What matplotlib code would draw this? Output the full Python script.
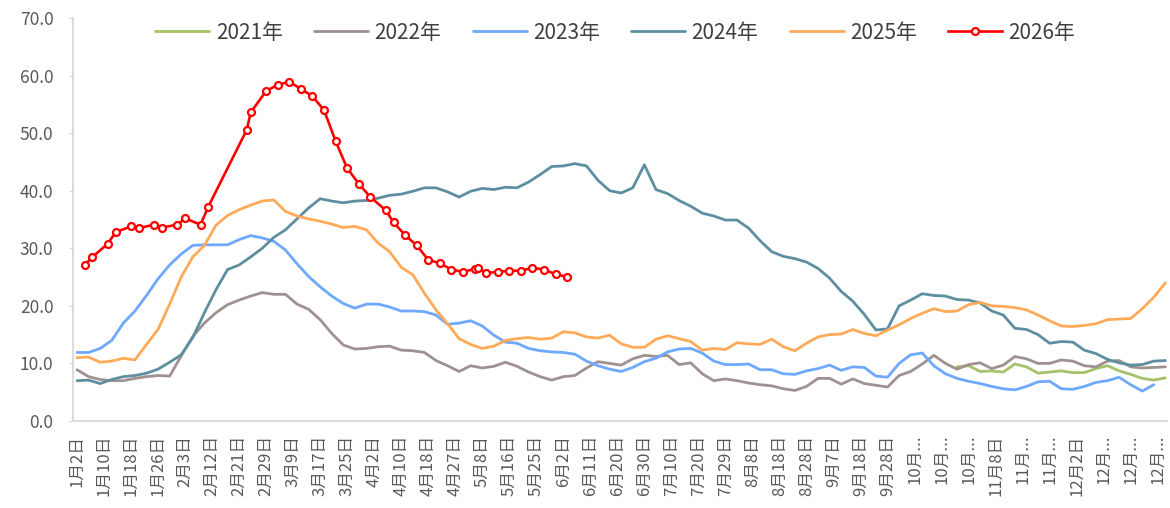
import numpy as np
import matplotlib.pyplot as plt

plt.rcParams['font.family'] = ['Noto Sans CJK SC', 'DejaVu Sans']

# x axis: one category per trading day, a label every 7 categories
tick_labels = ['1月2日', '1月10日', '1月18日', '1月26日', '2月3日', '2月12日', '2月21日',
               '2月29日', '3月9日', '3月17日', '3月25日', '4月2日', '4月10日', '4月18日',
               '4月27日', '5月8日', '5月16日', '5月25日', '6月2日', '6月11日', '6月20日',
               '6月30日', '7月10日', '7月20日', '7月29日', '8月8日', '8月18日', '8月28日',
               '9月7日', '9月18日', '9月28日', '10月...', '10月...', '10月...', '11月8日',
               '11月...', '11月...', '12月2日', '12月...', '12月...', '12月...']
label_every = 7
step = 3

v2021 = [None] * 76 + [
    9.4, 9.6, 8.6, 8.7, 8.5, 9.9, 9.4, 8.3, 8.5, 8.7, 8.4, 8.4, 9.1, 9.6, 8.7, 8.1,
    7.4, 7.1, 7.5]

v2022 = [
    8.9, 7.7, 7.2, 7.0, 7.0, 7.4, 7.7, 7.9, 7.8, 11.3,
    14.7, 17.0, 18.8, 20.2, 21.0, 21.7, 22.3, 22.0, 22.0, 20.3,
    19.4, 17.6, 15.2, 13.2, 12.5, 12.6, 12.9, 13.0, 12.3, 12.2,
    11.9, 10.5, 9.6, 8.6, 9.6, 9.2, 9.5, 10.2, 9.5, 8.5,
    7.7, 7.1, 7.7, 7.9, 9.2, 10.3, 10.0, 9.7, 10.8, 11.4,
    11.2, 11.4, 9.8, 10.1, 8.2, 7.0, 7.3, 7.0, 6.6, 6.3,
    6.1, 5.6, 5.3, 6.0, 7.4, 7.4, 6.4, 7.3, 6.5, 6.2,
    5.9, 7.9, 8.6, 9.9, 11.4, 10.0, 9.0, 9.8, 10.1, 9.1,
    9.7, 11.2, 10.8, 10.0, 10.0, 10.6, 10.4, 9.6, 9.4, 10.4,
    10.5, 9.4, 9.2, 9.3, 9.4]

v2023 = [
    11.9, 11.9, 12.6, 14.0, 17.0, 19.1, 21.8, 24.7, 27.1, 29.0,
    30.5, 30.6, 30.6, 30.6, 31.5, 32.2, 31.8, 31.2, 29.7, 27.3,
    25.1, 23.3, 21.7, 20.4, 19.6, 20.3, 20.3, 19.8, 19.1, 19.1,
    19.0, 18.4, 16.8, 17.0, 17.4, 16.5, 14.9, 13.7, 13.5, 12.6,
    12.2, 12.0, 11.9, 11.6, 10.4, 9.6, 9.0, 8.6, 9.3, 10.3,
    10.9, 12.0, 12.5, 12.6, 11.8, 10.4, 9.8, 9.8, 9.9, 8.9,
    8.9, 8.2, 8.1, 8.7, 9.1, 9.7, 8.8, 9.4, 9.3, 7.8,
    7.6, 10.0, 11.5, 11.8, 9.6, 8.2, 7.4, 6.9, 6.5, 6.0,
    5.6, 5.4, 6.0, 6.8, 6.9, 5.6, 5.5, 6.0, 6.7, 7.0,
    7.6, 6.3, 5.2, 6.3, None]

v2024 = [
    7.0, 7.1, 6.5, 7.2, 7.7, 7.9, 8.3, 9.0, 10.2, 11.5,
    14.5, 18.8, 22.8, 26.3, 27.1, 28.5, 30.0, 31.9, 33.2, 35.1,
    37.0, 38.6, 38.2, 37.9, 38.2, 38.3, 38.7, 39.2, 39.4, 39.9,
    40.5, 40.5, 39.8, 38.9, 39.9, 40.4, 40.2, 40.6, 40.5, 41.5,
    42.8, 44.2, 44.3, 44.7, 44.3, 41.8, 40.0, 39.6, 40.5, 44.5,
    40.2, 39.5, 38.3, 37.3, 36.1, 35.6, 34.9, 34.9, 33.5, 31.3,
    29.4, 28.6, 28.2, 27.6, 26.5, 24.8, 22.5, 20.8, 18.5, 15.8,
    16.0, 20.0, 21.0, 22.1, 21.8, 21.7, 21.1, 21.0, 20.5, 19.1,
    18.4, 16.1, 15.9, 15.0, 13.5, 13.8, 13.7, 12.3, 11.7, 10.7,
    10.1, 9.7, 9.8, 10.4, 10.5]

v2025 = [
    11.0, 11.1, 10.2, 10.4, 10.9, 10.6, 13.3, 15.9, 20.3, 25.0,
    28.5, 30.5, 34.0, 35.7, 36.7, 37.5, 38.2, 38.4, 36.4, 35.6,
    35.1, 34.7, 34.2, 33.6, 33.8, 33.2, 30.9, 29.4, 26.7, 25.4,
    22.2, 19.3, 16.9, 14.3, 13.3, 12.6, 13.0, 14.0, 14.3, 14.5,
    14.2, 14.4, 15.5, 15.3, 14.6, 14.4, 14.9, 13.4, 12.8, 12.8,
    14.2, 14.8, 14.3, 13.8, 12.3, 12.6, 12.4, 13.6, 13.4, 13.3,
    14.2, 12.9, 12.2, 13.5, 14.6, 15.0, 15.1, 15.9, 15.2, 14.8,
    15.8, 16.7, 17.8, 18.7, 19.5, 19.0, 19.1, 20.2, 20.6, 20.0,
    19.9, 19.7, 19.3, 18.4, 17.4, 16.5, 16.4, 16.6, 16.9, 17.6,
    17.7, 17.8, 19.5, 21.5, 24.0]

# 2026: observed days (category index) and values
x2026 = [2, 4, 8, 10, 14, 16, 20, 22, 26, 28, 32, 34, 44, 45, 49, 52, 55, 58, 61, 64,
         67, 70, 73, 76, 80, 82, 85, 88, 91, 94, 97, 100, 103, 104, 106, 109, 112, 115,
         118, 121, 124, 127]
v2026 = [27.1, 28.5, 30.8, 32.8, 33.8, 33.5, 34.1, 33.6, 34.1, 35.2, 34.1, 37.2, 50.6,
         53.6, 57.3, 58.4, 58.9, 57.7, 56.4, 54.0, 48.6, 43.9, 41.2, 38.9, 36.6, 34.5,
         32.3, 30.5, 28.0, 27.4, 26.3, 25.9, 26.4, 26.5, 25.7, 25.9, 26.1, 26.1, 26.6,
         26.3, 25.5, 25.0]

series = [
    ('2021年', v2021, '#A5C26A'),
    ('2022年', v2022, '#A09191'),
    ('2023年', v2023, '#6EA8FF'),
    ('2024年', v2024, '#5E8FA1'),
    ('2025年', v2025, '#FFAA58'),
]

fig = plt.figure(figsize=(11.7, 5.08), dpi=100)
ax = fig.add_axes([0.0624, 0.1713, 0.935, 0.7933])

for name, vals, color in series:
    y = np.array(vals, dtype=float)
    x = np.arange(len(y)) * step
    ax.plot(x, y, color=color, lw=2.0, label=name, solid_capstyle='round')

ax.plot(x2026, v2026, color='#FF0000', lw=1.9, marker='o', markersize=5,
        markerfacecolor='white', markeredgecolor='#FF0000', markeredgewidth=1.6,
        label='2026年', zorder=5)

ax.set_xlim(-1.04, 282.4)
ax.set_ylim(0, 70)
ax.set_yticks(np.arange(0, 71, 10))
ax.set_yticklabels([f'{v:.1f}' for v in np.arange(0, 71, 10)])
ax.set_xticks(np.arange(len(tick_labels)) * label_every)
ax.set_xticklabels(tick_labels, rotation=90, va='top', ha='center')

ax.tick_params(axis='y', length=3, color='#D9D9D9', pad=11, labelsize=12.5, labelcolor='#595959')
ax.tick_params(axis='x', length=0, pad=10, labelsize=12, labelcolor='#595959')

for side in ['top', 'right']:
    ax.spines[side].set_visible(False)
for side in ['left', 'bottom']:
    ax.spines[side].set_color('#D9D9D9')
    ax.spines[side].set_linewidth(1.3)

leg = fig.legend(loc='center', bbox_to_anchor=(0.526, 0.936), ncol=6, frameon=False,
                 fontsize=15, handlelength=2.6, handletextpad=0.3, columnspacing=1.5,
                 numpoints=1)
for t in leg.get_texts():
    t.set_color('#404040')

fig.savefig('out.png', dpi=100)
